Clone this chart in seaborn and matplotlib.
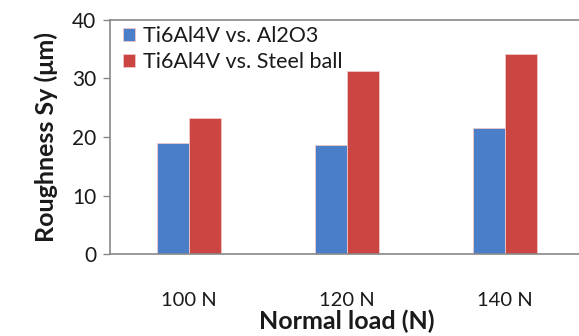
import pandas as pd
import seaborn as sns
import matplotlib.pyplot as plt

# 数据
loads = ['100 N', '120 N', '140 N']
al2o3 = [18.9, 18.6, 21.5]
steel = [23.2, 31.3, 34.2]
series = ['Ti6Al4V vs. Al2O3', 'Ti6Al4V vs. Steel ball']

data = pd.DataFrame({
    'load': loads * 2,
    'Sy': al2o3 + steel,
    'pair': [series[0]] * 3 + [series[1]] * 3,
})

sns.set_style('white')
plt.rcParams['font.family'] = ['Lato', 'DejaVu Sans']
plt.rcParams['text.color'] = '#1a1a1a'
plt.rcParams['axes.labelcolor'] = '#1a1a1a'
plt.rcParams['xtick.color'] = '#1a1a1a'
plt.rcParams['ytick.color'] = '#1a1a1a'

fig = plt.figure(figsize=(5.79, 3.36), dpi=100)
# 右侧被裁掉, 所以轴区域超出图片
ax = fig.add_axes([110 / 579, (336 - 254) / 336, 474 / 579, 234 / 336])

sns.barplot(data=data, x='load', y='Sy', hue='pair', order=loads, hue_order=series,
            palette=['#4A7EC8', '#CB4543'], saturation=1, width=0.4,
            edgecolor='#F0C8C8', linewidth=0.6, ax=ax)

ax.set_xlim(-0.5, 2.5)
ax.set_ylim(0, 40)
ax.set_yticks([0, 10, 20, 30, 40])
ax.tick_params(axis='y', labelsize=15, length=5, width=1, color='#888888', direction='out', left=True, pad=5)
ax.tick_params(axis='x', labelsize=14.5, length=0, pad=27)
for s in ['left', 'bottom', 'top']:
    ax.spines[s].set_color('#888888')
    ax.spines[s].set_linewidth(1.2)
ax.spines['right'].set_visible(False)

ax.set_xlabel('Normal load (N)', fontsize=18, fontweight='bold', labelpad=1)
ax.set_ylabel('Roughness Sy (μm)', fontsize=18, fontweight='bold', labelpad=10)

ax.legend(loc='upper left', bbox_to_anchor=(0.0, 1.03), frameon=False, fontsize=15.5,
          handlelength=0.55, handleheight=0.55, handletextpad=0.4, labelspacing=0.3,
          borderaxespad=0.2)

fig.savefig('out.png', dpi=100)
